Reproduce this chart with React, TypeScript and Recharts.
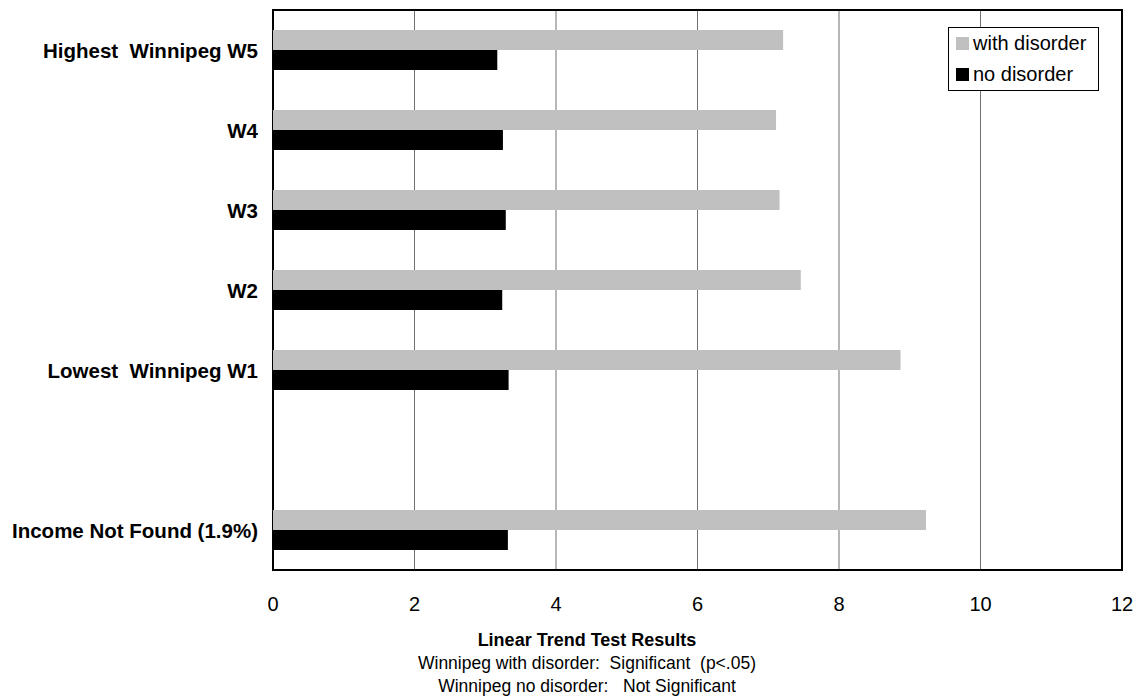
import {
  BarChart,
  Bar,
  XAxis,
  YAxis,
  CartesianGrid,
  Legend,
  ReferenceArea,
} from "recharts";

const categories = [
  "Highest  Winnipeg W5",
  "W4",
  "W3",
  "W2",
  "Lowest  Winnipeg W1",
  "",
  "Income Not Found (1.9%)",
];
const withDisorder = [7.21, 7.11, 7.16, 7.46, 8.87, null, 9.23];
const noDisorder = [3.17, 3.25, 3.29, 3.24, 3.33, null, 3.32];
const xTicks = [0, 2, 4, 6, 8, 10, 12];
const footerLines = [
  "Winnipeg with disorder:  Significant  (p<.05)",
  "Winnipeg no disorder:   Not Significant",
];

const data = categories.map((name, i) => ({
  name,
  withDisorder: withDisorder[i],
  noDisorder: noDisorder[i],
}));

const FONT = "'Liberation Sans', Arial, sans-serif";

function CategoryTick(props: any) {
  const { x, y, payload } = props;
  return (
    <text
      x={x}
      y={y}
      textAnchor="end"
      dominantBaseline="central"
      fontFamily={FONT}
      fontSize={20.5}
      fontWeight="bold"
      fill="#000"
      style={{ whiteSpace: "pre" }}
    >
      {payload.value}
    </text>
  );
}

function LegendBox() {
  const items = [
    { label: "with disorder", color: "#C0C0C0" },
    { label: "no disorder", color: "#000000" },
  ];
  return (
    <div
      style={{
        border: "1px solid #000",
        background: "#fff",
        padding: "0 0 0 7px",
        height: 64,
        fontFamily: FONT,
        fontSize: 20,
        boxSizing: "border-box",
      }}
    >
      {items.map((it) => (
        <div key={it.label} style={{ display: "flex", alignItems: "center", height: 31 }}>
          <span
            style={{
              display: "inline-block",
              width: 13,
              height: 13,
              background: it.color,
              marginRight: 4,
            }}
          />
          <span>{it.label}</span>
        </div>
      ))}
    </div>
  );
}

export default function App() {
  return (
    <div
      style={{
        position: "absolute",
        left: 0,
        top: 0,
        width: 1139,
        height: 698,
        background: "#fff",
      }}
    >
      <BarChart
        width={1139}
        height={698}
        data={data}
        layout="vertical"
        margin={{ top: 10, right: 17, left: 0, bottom: 88 }}
        barCategoryGap="25%"
        barGap={0}
      >
        <CartesianGrid horizontal={false} stroke="#707070" strokeWidth={1} />
        <XAxis
          type="number"
          domain={[0, 12]}
          ticks={xTicks}
          tickLine={false}
          axisLine={false}
          tickMargin={21}
          height={40}
          tick={{ fontSize: 20, fill: "#000", fontFamily: FONT }}
        />
        <YAxis
          type="category"
          dataKey="name"
          width={273}
          tickLine={false}
          axisLine={false}
          tickMargin={9}
          interval={0}
          tick={<CategoryTick />}
        />
        <Legend
          layout="vertical"
          align="center"
          verticalAlign="middle"
          content={() => <LegendBox />}
          wrapperStyle={{ position: "absolute", left: 948, top: 27, width: 151 }}
        />
        <Bar
          dataKey="withDisorder"
          name="with disorder"
          fill="#C0C0C0"
          isAnimationActive={false}
        />
        <Bar
          dataKey="noDisorder"
          name="no disorder"
          fill="#000000"
          isAnimationActive={false}
        />
        <ReferenceArea
          x1={0}
          x2={12}
          fill="none"
          stroke="#000"
          strokeWidth={2}
          ifOverflow="visible"
        />
      </BarChart>
      <div
        style={{
          position: "absolute",
          left: 337,
          top: 629,
          width: 500,
          textAlign: "center",
          fontFamily: FONT,
          color: "#000",
        }}
      >
        <div style={{ fontSize: 18, fontWeight: "bold", lineHeight: "23px" }}>
          Linear Trend Test Results
        </div>
        {footerLines.map((l) => (
          <div key={l} style={{ fontSize: 17.5, lineHeight: "23px", whiteSpace: "pre" }}>
            {l}
          </div>
        ))}
      </div>
    </div>
  );
}
